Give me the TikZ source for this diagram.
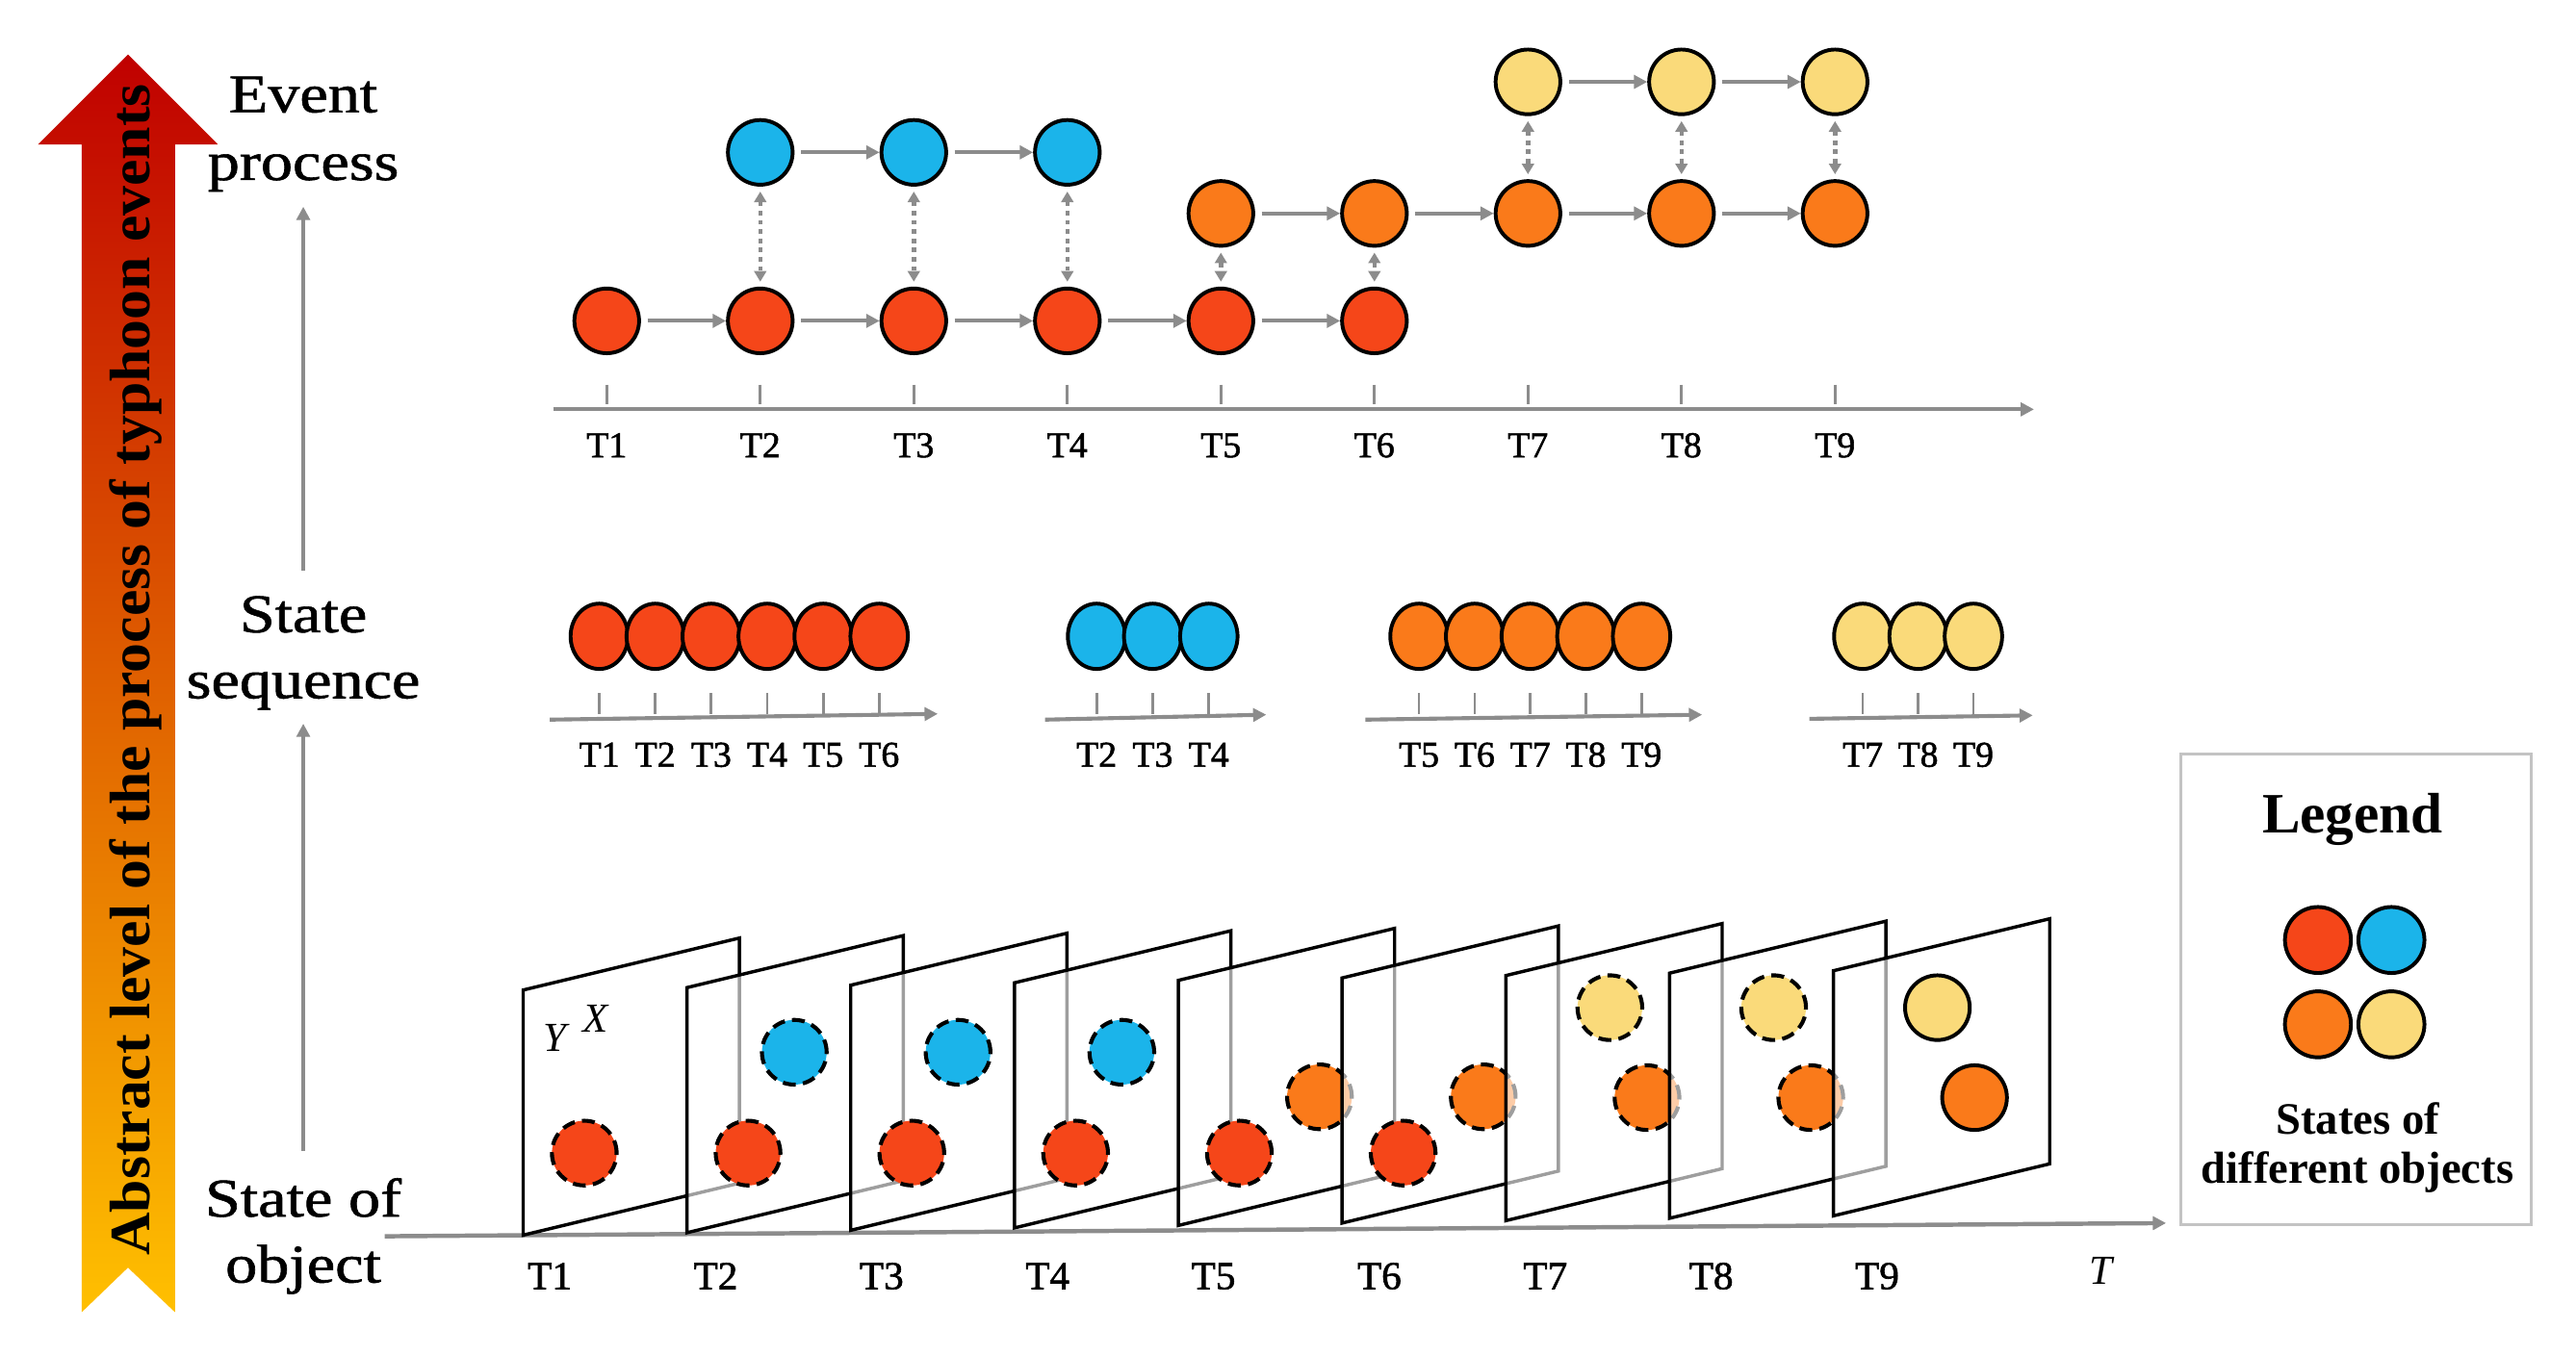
\documentclass[tikz,border=0pt]{standalone}
\usepackage{fontspec}
\setmainfont{Liberation Serif}
\newfontfamily\heavyserif{Liberation Serif}[FakeBold=1.5]
\newfontfamily\semiserif{Liberation Serif}[FakeBold=1.0]
\usepackage{graphicx}
\usetikzlibrary{arrows.meta,shapes.geometric}
\definecolor{cred}{RGB}{245,70,25}
\definecolor{cblue}{RGB}{27,180,234}
\definecolor{corange}{RGB}{250,122,26}
\definecolor{cyellow}{RGB}{250,218,122}
\definecolor{cgray}{RGB}{140,140,140}
\definecolor{lgray}{RGB}{195,195,195}
\definecolor{atop}{RGB}{192,0,0}
\definecolor{abot}{RGB}{255,192,0}
\newcommand{\stretchlab}[1]{\scalebox{1.17}[1]{#1}}
\newcommand{\drawplane}[2]{\path[planebox] (#1,#2) -- ++(0,-148.5) -- ++(131,-31.5) -- ++(0,148.5) -- cycle;}
\begin{document}
\begin{tikzpicture}[x=0.5pt,y=-0.5pt,
  evdot/.style={circle, draw=black, line width=1.15pt, minimum size=19.6pt, inner sep=0pt},
  sqdot/.style={ellipse, draw=black, line width=1.15pt, minimum width=17.4pt, minimum height=19.8pt, inner sep=0pt},
  pldot/.style={evdot, line width=1.2pt, dash pattern=on 3.9pt off 2.2pt},
  garrow/.style={draw=cgray, line width=1.2pt, -{Triangle[length=4pt,width=4pt]}},
  gdot/.style={draw=cgray, line width=1.3pt, dash pattern=on 1.4pt off 1.4pt,
     {Triangle[length=3.2pt,width=3.6pt]}-{Triangle[length=3.2pt,width=3.6pt]},
     shorten <=1.5pt, shorten >=1.5pt},
  tickln/.style={draw=cgray, line width=0.8pt},
  tlab/.style={font=\heavyserif\fontsize{11}{13}\selectfont, anchor=base, inner sep=0pt},
  blab/.style={font=\heavyserif\fontsize{12}{14}\selectfont, anchor=base, inner sep=0pt},
  lvl/.style={font=\semiserif\fontsize{16.5}{20}\selectfont, anchor=base, inner sep=0pt},
  planebox/.style={draw=black, line width=1pt, fill=white, fill opacity=0.62},
]
\useasboundingbox (0,0) rectangle (1560.3,821);

% ---------- big gradient arrow ----------
\shade[top color=atop, bottom color=abot]
  (77.5,33) -- (132,87.5) -- (106,87.5) -- (106,795) -- (77.5,768)
  -- (49.5,795) -- (49.5,87.5) -- (23,87.5) -- cycle;
\node[rotate=90, anchor=base, inner sep=0pt, font=\bfseries\fontsize{17.3}{20}\selectfont]
  (abstract) at (90.4,405.8) {\scalebox{1.04}[1]{Abstract level of the process of typhoon events}};

% ---------- level labels ----------
\node[lvl] (lv-event) at (183.7,68) {\stretchlab{Event}};
\node[lvl] (lv-process) at (183.7,109) {\stretchlab{process}};
\node[lvl] (lv-state) at (183.7,383) {\stretchlab{State}};
\node[lvl] (lv-sequence) at (183.7,423) {\stretchlab{sequence}};
\node[lvl] (lv-stateof) at (183.7,737) {\stretchlab{State of}};
\node[lvl] (lv-object) at (183.7,777) {\stretchlab{object}};
\draw[garrow, shorten <=8pt, shorten >=4pt] (lv-stateof.north) -- (lv-sequence.south);
\draw[garrow, shorten <=7.5pt, shorten >=4.4pt] (lv-state.north) -- (lv-process.south);

% ---------- event process ----------
\coordinate (ta) at (335,248);
\coordinate (tb) at (1232,248);
\draw[garrow] (ta) -- (tb);
\foreach \i in {1,...,9} {
  \pgfmathsetmacro\xx{367.5+93*(\i-1)}
  \draw[tickln] (\xx,233) -- (\xx,245);
  \node[tlab] (tl\i) at (\xx,277) {T\i};
}
\node[evdot, fill=cred] (er1) at (367.5,194.4) {};
\node[evdot, fill=cred] (er2) at (460.5,194.4) {};
\node[evdot, fill=cred] (er3) at (553.5,194.4) {};
\node[evdot, fill=cred] (er4) at (646.5,194.4) {};
\node[evdot, fill=cred] (er5) at (739.5,194.4) {};
\node[evdot, fill=cred] (er6) at (832.5,194.4) {};
\node[evdot, fill=cblue] (eb2) at (460.5,92.3) {};
\node[evdot, fill=cblue] (eb3) at (553.5,92.3) {};
\node[evdot, fill=cblue] (eb4) at (646.5,92.3) {};
\node[evdot, fill=corange] (eo5) at (739.5,129.3) {};
\node[evdot, fill=corange] (eo6) at (832.5,129.3) {};
\node[evdot, fill=corange] (eo7) at (925.5,129.3) {};
\node[evdot, fill=corange] (eo8) at (1018.5,129.3) {};
\node[evdot, fill=corange] (eo9) at (1111.5,129.3) {};
\node[evdot, fill=cyellow] (ey7) at (925.5,49.6) {};
\node[evdot, fill=cyellow] (ey8) at (1018.5,49.6) {};
\node[evdot, fill=cyellow] (ey9) at (1111.5,49.6) {};
\foreach \a/\b in {er1/er2,er2/er3,er3/er4,er4/er5,er5/er6,eb2/eb3,eb3/eb4,
                   eo5/eo6,eo6/eo7,eo7/eo8,eo8/eo9,ey7/ey8,ey8/ey9}
  \draw[garrow, shorten <=2pt] (\a) -- (\b);
\foreach \a/\b in {eb2/er2,eb3/er3,eb4/er4,eo5/er5,eo6/er6,ey7/eo7,ey8/eo8,ey9/eo9}
  \draw[gdot] (\a) -- (\b);

% ---------- state sequence ----------
\coordinate (sra) at (333,436);   \coordinate (srb) at (568,432.5);
\coordinate (sba) at (633,436);   \coordinate (sbb) at (767,433);
\coordinate (soa) at (827,436);   \coordinate (sob) at (1031,433);
\coordinate (sya) at (1096,435.5); \coordinate (syb) at (1231.3,433.4);
\draw[garrow] (sra) -- (srb);
\draw[garrow] (sba) -- (sbb);
\draw[garrow] (soa) -- (sob);
\draw[garrow] (sya) -- (syb);
\foreach \x/\t in {363/1,396.9/2,430.8/3,464.7/4,498.6/5,532.5/6} {
  \draw[tickln] (\x,420) -- (\x,432.5);
  \node[sqdot, fill=cred] (sr\t) at (\x,385.5) {};
  \node[tlab] (srl\t) at (\x,464.5) {T\t};
}
\foreach \x/\t in {664.2/2,698.2/3,732.2/4} {
  \draw[tickln] (\x,420) -- (\x,432.5);
  \node[sqdot, fill=cblue] (sb\t) at (\x,385.5) {};
  \node[tlab] (sbl\t) at (\x,464.5) {T\t};
}
\foreach \x/\t in {859.5/5,893.2/6,926.9/7,960.6/8,994.3/9} {
  \draw[tickln] (\x,420) -- (\x,432.5);
  \node[sqdot, fill=corange] (so\t) at (\x,385.5) {};
  \node[tlab] (sol\t) at (\x,464.5) {T\t};
}
\foreach \x/\t in {1128.3/7,1161.8/8,1195.3/9} {
  \draw[tickln] (\x,420) -- (\x,432.5);
  \node[sqdot, fill=cyellow] (sy\t) at (\x,385.5) {};
  \node[tlab] (syl\t) at (\x,464.5) {T\t};
}

% ---------- state of object ----------
\coordinate (ba) at (233,749);
\coordinate (bb) at (1312,741);
\draw[garrow, line width=1.3pt] (ba) -- (bb);
\foreach \i in {1,...,9} {
  \pgfmathsetmacro\xx{333+100.5*(\i-1)}
  \node[blab] (bl\i) at (\xx,781) {T\i};
}
\node[blab, font=\itshape\fontsize{12.5}{14}\selectfont] (btl) at (1272.7,778) {T};

\drawplane{316.9}{748.3}
\node[pldot, fill=cred] (p1r) at (353.9,698.6) {};
\node[font=\itshape\fontsize{12.5}{14}\selectfont, inner sep=0pt] (ylab) at (336,628.7) {Y};
\node[font=\itshape\fontsize{12.5}{14}\selectfont, inner sep=0pt] (xlab) at (360.4,617) {X};

\drawplane{416.1}{746.84}
\node[pldot, fill=cred] (p2r) at (453.1,698.6) {};
\node[pldot, fill=cblue] (p2b) at (481.1,637.5) {};

\drawplane{515.3}{745.38}
\node[pldot, fill=cred] (p3r) at (552.3,698.6) {};
\node[pldot, fill=cblue] (p3b) at (580.3,637.5) {};

\drawplane{614.5}{743.92}
\node[pldot, fill=cred] (p4r) at (651.5,698.6) {};
\node[pldot, fill=cblue] (p4b) at (679.5,637.5) {};

\drawplane{713.7}{742.46}
\node[pldot, fill=cred] (p5r) at (750.7,698.6) {};
\node[pldot, fill=corange] (p5o) at (799.2,664.5) {};

\drawplane{812.9}{741.0}
\node[pldot, fill=cred] (p6r) at (849.9,698.6) {};
\node[pldot, fill=corange] (p6o) at (898.4,664.5) {};

\drawplane{912.1}{739.54}
\node[pldot, fill=corange] (p7o) at (997.6,665) {};
\node[pldot, fill=cyellow] (p7y) at (975.1,610.5) {};

\drawplane{1011.3}{738.08}
\node[pldot, fill=corange] (p8o) at (1096.8,665) {};
\node[pldot, fill=cyellow] (p8y) at (1074.3,610.5) {};

\drawplane{1110.5}{736.62}
\node[evdot, fill=corange] (p9o) at (1196,665) {};
\node[evdot, fill=cyellow] (p9y) at (1173.5,610.5) {};

% ---------- legend ----------
\node[draw=lgray, line width=0.8pt, minimum width=106pt, minimum height=142.5pt, inner sep=0pt]
  (legend) at (1427,599.5) {};
\node[anchor=base, inner sep=0pt, font=\bfseries\fontsize{17.3}{20}\selectfont] (legtitle) at (1425,504.7) {Legend};
\node[evdot, fill=cred, minimum size=20pt] (lr) at (1404,569.5) {};
\node[evdot, fill=cblue, minimum size=20pt] (lb) at (1448.5,569.5) {};
\node[evdot, fill=corange, minimum size=20pt] (lo) at (1404,620.6) {};
\node[evdot, fill=cyellow, minimum size=20pt] (ly) at (1448.5,620.6) {};
\node[anchor=base, inner sep=0pt, font=\bfseries\fontsize{13.6}{15}\selectfont] (legt1) at (1428,687.2) {States of};
\node[anchor=base, inner sep=0pt, font=\bfseries\fontsize{13.6}{15}\selectfont] (legt2) at (1428,716.6) {different objects};
\end{tikzpicture}
\end{document}
